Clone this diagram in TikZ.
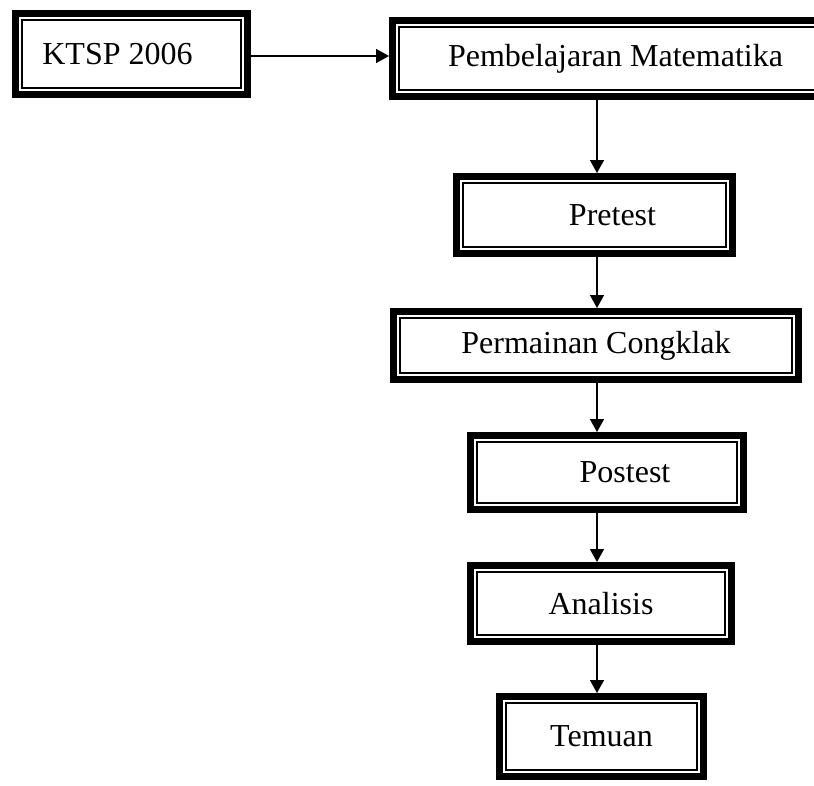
\documentclass[tikz,border=0pt]{standalone}
\usepackage{fontspec}
\setmainfont{Liberation Serif}
\usetikzlibrary{arrows.meta}
\tikzset{
  tbox/.style={draw, line width=7pt, inner sep=0pt, outer sep=3.5pt, fill=white},
  thinline/.style={line width=1.6pt},
  lbl/.style={inner sep=0pt, font=\fontsize{32}{36}\selectfont},
  arr/.style={line width=1.5pt, -{Triangle[length=13pt,width=14pt]}}
}
\begin{document}
\begin{tikzpicture}[x=1pt,y=1pt]
\useasboundingbox (0,0) rectangle (814,-785);
\clip (0,0) rectangle (814,-785);
% boxes (outer size minus thick line)
\node[tbox, minimum width=232, minimum height=81] (ktsp) at (131.5,-54) {};
\node[tbox, minimum width=446, minimum height=76] (pem) at (615.5,-58.5) {};
\node[tbox, minimum width=276, minimum height=77] (pre) at (594.5,-215) {};
\node[tbox, minimum width=405, minimum height=68] (perm) at (596,-345.5) {};
\node[tbox, minimum width=273, minimum height=74] (post) at (607,-472.5) {};
\node[tbox, minimum width=261, minimum height=76] (ana) at (601,-603.5) {};
\node[tbox, minimum width=204, minimum height=80] (tem) at (601.5,-736.5) {};
\foreach \n in {ktsp,pem,pre,perm,post,ana,tem}
  \draw[thinline] ([shift={(9.8,9.8)}]\n.south west) rectangle ([shift={(-9.8,-9.8)}]\n.north east);
% labels
\node[lbl] (ktspt) at ([xshift=-14]ktsp.center) {KTSP 2006};
\node[lbl] (pemt) at (pem.center) {Pembelajaran Matematika};
\node[lbl] (pret) at ([xshift=18]pre.center) {Pretest};
\node[lbl] (permt) at (perm.center) {Permainan Congklak};
\node[lbl] (postt) at ([xshift=18]post.center) {Postest};
\node[lbl] (anat) at (ana.center) {Analisis};
\node[lbl] (temt) at (tem.center) {Temuan};
% connectors
\coordinate (ax) at (597,0);
\coordinate (ay) at (0,-56);
\draw[arr] (ktsp.east |- ay) -- (pem.west |- ay);
\draw[arr] (pem.south -| ax) -- (pre.north -| ax);
\draw[arr] (pre.south -| ax) -- (perm.north -| ax);
\draw[arr] (perm.south -| ax) -- (post.north -| ax);
\draw[arr] (post.south -| ax) -- (ana.north -| ax);
\draw[arr] (ana.south -| ax) -- (tem.north -| ax);
\end{tikzpicture}
\end{document}
